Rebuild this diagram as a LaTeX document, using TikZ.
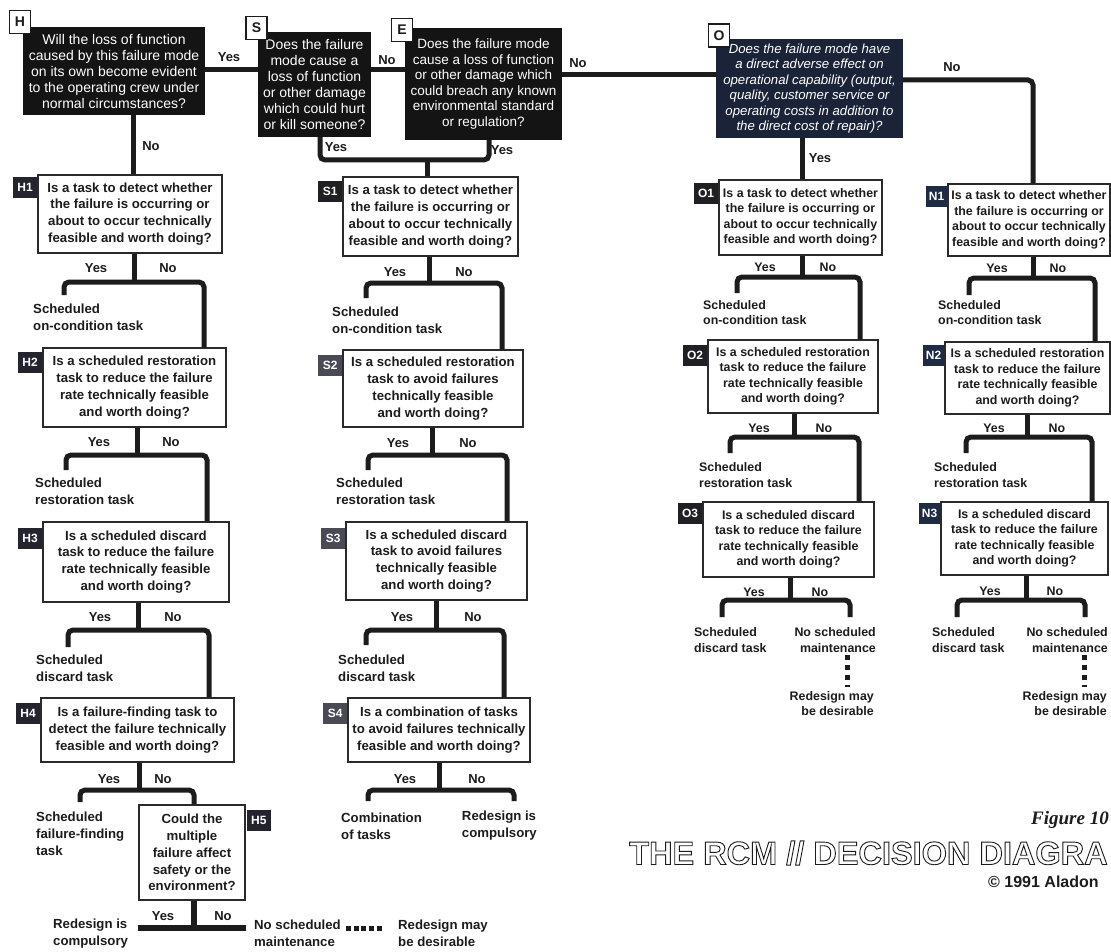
\documentclass[tikz,border=0pt]{standalone}
\usepackage{fontspec}
\setmainfont{Liberation Sans}
\newfontfamily\figserif{Liberation Serif}
\definecolor{ink}{HTML}{1C1C1C}
\definecolor{boxline}{HTML}{2A2A2A}
\definecolor{topfill}{HTML}{141414}
\definecolor{navy}{HTML}{1B2338}
\definecolor{labH}{HTML}{24242E}
\definecolor{labS}{HTML}{4A4A55}
\definecolor{labO}{HTML}{202024}
\definecolor{labN}{HTML}{1F2B45}
\begin{document}
\begin{tikzpicture}[x=1pt,y=-1pt,
  conn/.style={draw=ink, line width=5pt, rounded corners=5pt},
  topq/.style={fill=topfill, text=white, font=\fontsize{14}{16}\selectfont, align=center, inner sep=0pt},
  qbox/.style={draw=boxline, line width=1.3pt, fill=white, text=ink, font=\bfseries\fontsize{13.2}{16.8}\selectfont, align=center, inner sep=0pt},
  qboxr/.style={qbox, font=\bfseries\fontsize{12.4}{15.5}\selectfont},
  toplabel/.style={draw=ink, line width=1.4pt, fill=white, text=ink, font=\bfseries\fontsize{14}{14}\selectfont, minimum width=21pt, minimum height=23pt, inner sep=0pt},
  qlabel/.style={fill=#1, text=white, font=\bfseries\fontsize{12}{12}\selectfont, minimum width=24pt, minimum height=21pt, inner sep=0pt},
  yn/.style={text=ink, font=\bfseries\fontsize{13}{13}\selectfont, inner sep=0pt},
  ynr/.style={yn, font=\bfseries\fontsize{12.4}{12.4}\selectfont},
  outc/.style={text=ink, font=\bfseries\fontsize{13.2}{17}\selectfont, align=left, inner sep=0pt, anchor=west},
  outcr/.style={outc, font=\bfseries\fontsize{12.4}{15.5}\selectfont},
  sqh/.style={draw=ink, line width=5pt, dash pattern=on 5pt off 2.75pt},
  sqv/.style={draw=ink, line width=5pt, dash pattern=on 5pt off 5pt},
]
\fill[white] (0,0) rectangle (1111,952);
\useasboundingbox (0,0) rectangle (1111,952);

% ---------- top questions ----------
\node[topq, minimum width=182pt, minimum height=88pt] (qH) at (114,71)
  {Will the loss of function\\caused by this failure mode\\on its own become evident\\to the operating crew under\\normal circumstances?};
\node[topq, minimum width=113pt, minimum height=105pt] (qS) at (314.5,84.5)
  {Does the failure\\mode cause a\\loss of function\\or other damage\\which could hurt\\or kill someone?};
\node[topq, minimum width=157pt, minimum height=112pt, font=\fontsize{13.5}{15.5}\selectfont] (qE) at (483.5,84)
  {Does the failure mode\\cause a loss of function\\or other damage which\\could breach any known\\environmental standard\\or regulation?};
\node[topq, fill=navy, minimum width=187pt, minimum height=99pt, font=\itshape\fontsize{13.2}{15.5}\selectfont] (qO) at (809.5,88.5)
  {Does the failure mode have\\a direct adverse effect on\\operational capability (output,\\quality, customer service or\\operating costs in addition to\\the direct cost of repair)?};
\node[toplabel] (lH) at (20,22) {H};
\node[toplabel] (lS) at (256.5,28) {S};
\node[toplabel] (lE) at (402,30) {E};
\node[toplabel] (lO) at (719,35.5) {O};

% ---------- H column ----------
\node[qbox, minimum width=184pt, minimum height=78pt] (qH1) at (130,214)
  {Is a task to detect whether\\the failure is occurring or\\about to occur technically\\feasible and worth doing?};
\node[qbox, minimum width=183pt, minimum height=79pt] (qH2) at (134.5,387.5)
  {Is a scheduled restoration\\task to reduce the failure\\rate technically feasible\\and worth doing?};
\node[qbox, minimum width=186pt, minimum height=80pt] (qH3) at (136,562)
  {Is a scheduled discard\\task to reduce the failure\\rate technically feasible\\and worth doing?};
\node[qbox, minimum width=193pt, minimum height=64pt] (qH4) at (137.5,730)
  {Is a failure-finding task to\\detect the failure technically\\feasible and worth doing?};
\node[qbox, minimum width=106pt, minimum height=95pt] (qH5) at (192,852.5)
  {Could the\\multiple\\failure affect\\safety or the\\environment?};
\node[qlabel=labH, anchor=north east] (lH1) at ([yshift=-2pt]qH1.north west) {H1};
\node[qlabel=labH, anchor=north east] (lH2) at ([yshift=-4pt]qH2.north west) {H2};
\node[qlabel=labH, anchor=north east] (lH3) at ([yshift=-6pt]qH3.north west) {H3};
\node[qlabel=labH, anchor=north east] (lH4) at ([yshift=-5pt]qH4.north west) {H4};
\node[qlabel=labH, anchor=north west] (lH5) at ([yshift=-5pt,xshift=1pt]qH5.north east) {H5};

% ---------- S column ----------
\node[qbox, minimum width=175pt, minimum height=79pt] (qS1) at (430.5,216.5)
  {Is a task to detect whether\\the failure is occurring or\\about to occur technically\\feasible and worth doing?};
\node[qbox, minimum width=180pt, minimum height=77pt] (qS2) at (433,388.5)
  {Is a scheduled restoration\\task to avoid failures\\technically feasible\\and worth doing?};
\node[qbox, minimum width=181pt, minimum height=78pt] (qS3) at (436.5,561)
  {Is a scheduled discard\\task to avoid failures\\technically feasible\\and worth doing?};
\node[qbox, minimum width=182pt, minimum height=64pt] (qS4) at (439,730)
  {Is a combination of tasks\\to avoid failures technically\\feasible and worth doing?};
\node[qlabel=labO, anchor=north east] (lS1) at ([yshift=-4pt]qS1.north west) {S1};
\node[qlabel=labS, anchor=north east] (lS2) at ([yshift=-5pt]qS2.north west) {S2};
\node[qlabel=labS, anchor=north east] (lS3) at ([yshift=-6pt]qS3.north west) {S3};
\node[qlabel=labS, anchor=north east] (lS4) at ([yshift=-5pt]qS4.north west) {S4};

% ---------- O column ----------
\node[qboxr, minimum width=163pt, minimum height=75pt] (qO1) at (800.5,217.5)
  {Is a task to detect whether\\the failure is occurring or\\about to occur technically\\feasible and worth doing?};
\node[qboxr, minimum width=170pt, minimum height=73pt] (qO2) at (793,376.5)
  {Is a scheduled restoration\\task to reduce the failure\\rate technically feasible\\and worth doing?};
\node[qboxr, minimum width=171pt, minimum height=75pt] (qO3) at (788.5,539.5)
  {Is a scheduled discard\\task to reduce the failure\\rate technically feasible\\and worth doing?};
\node[qlabel=labO, anchor=north east] (lO1) at ([yshift=-3pt]qO1.north west) {O1};
\node[qlabel=labO, anchor=north east] (lO2) at ([yshift=-5pt]qO2.north west) {O2};
\node[qlabel=labO, anchor=north east] (lO3) at ([yshift=-1pt]qO3.north west) {O3};

% ---------- N column ----------
\node[qboxr, minimum width=162pt, minimum height=72pt] (qN1) at (1029,220)
  {Is a task to detect whether\\the failure is occurring or\\about to occur technically\\feasible and worth doing?};
\node[qboxr, minimum width=165pt, minimum height=72pt] (qN2) at (1027.5,378)
  {Is a scheduled restoration\\task to reduce the failure\\rate technically feasible\\and worth doing?};
\node[qboxr, minimum width=167pt, minimum height=73pt] (qN3) at (1024.5,538.5)
  {Is a scheduled discard\\task to reduce the failure\\rate technically feasible\\and worth doing?};
\node[qlabel=labN, minimum width=21pt, anchor=north east] (lN1) at ([yshift=-2pt]qN1.north west) {N1};
\node[qlabel=labN, minimum width=21pt, anchor=north east] (lN2) at ([yshift=-3pt]qN2.north west) {N2};
\node[qlabel=labN, minimum width=21pt, anchor=north east] (lN3) at ([yshift=-1pt]qN3.north west) {N3};

% ---------- outcomes ----------
\node[outc] (h1y) at (33,317.5) {Scheduled\\on-condition task};
\node[outc] (h2y) at (35,491) {Scheduled\\restoration task};
\node[outc] (h3y) at (36,668.5) {Scheduled\\discard task};
\node[outc] (h4y) at (36,834) {Scheduled\\failure-finding\\task};
\node[outc] (h5y) at (53,933.5) {Redesign is\\compulsory};
\node[outc] (h5n) at (254,933.5) {No scheduled\\maintenance};
\node[outc] (h5d) at (398,933.5) {Redesign may\\be desirable};
\node[outc] (s1y) at (332,320) {Scheduled\\on-condition task};
\node[outc] (s2y) at (336,491.5) {Scheduled\\restoration task};
\node[outc] (s3y) at (338,668.5) {Scheduled\\discard task};
\node[outc] (s4y) at (341,826) {Combination\\of tasks};
\node[outc, anchor=east] (s4n) at (537,826) {Redesign is\\compulsory};
\node[outcr] (o1y) at (703,312.5) {Scheduled\\on-condition task};
\node[outcr] (o2y) at (699,475) {Scheduled\\restoration task};
\node[outcr] (o3y) at (694,640) {Scheduled\\discard task};
\node[outcr, anchor=east, align=right] (o3n) at (876,640) {No scheduled\\maintenance};
\node[outcr, anchor=east, align=right] (o3d) at (874,703.5) {Redesign may\\be desirable};
\node[outcr] (n1y) at (938,312.5) {Scheduled\\on-condition task};
\node[outcr] (n2y) at (934,475) {Scheduled\\restoration task};
\node[outcr] (n3y) at (932,640) {Scheduled\\discard task};
\node[outcr, anchor=east, align=right] (n3n) at (1108,640) {No scheduled\\maintenance};
\node[outcr, anchor=east, align=right] (n3d) at (1107,703.5) {Redesign may\\be desirable};

% ---------- yes / no labels ----------
\node[yn] (tHy) at (229,57) {Yes};
\node[yn] (tSn) at (387,60) {No};
\node[yn] (tEn) at (578,63) {No};
\node[yn] (tOn) at (952,67) {No};
\node[yn] (tHn) at (151,146) {No};
\node[yn] (tSy) at (336,147) {Yes};
\node[yn] (tEy) at (502,150) {Yes};
\node[yn] (tOy) at (820,158) {Yes};
\node[yn] (h1ya) at (96,268) {Yes};   \node[yn] (h1na) at (168,268) {No};
\node[yn] (h2ya) at (99,442) {Yes};   \node[yn] (h2na) at (171,442) {No};
\node[yn] (h3ya) at (100,617) {Yes};  \node[yn] (h3na) at (173,617) {No};
\node[yn] (h4ya) at (109,779) {Yes};  \node[yn] (h4na) at (163,779) {No};
\node[yn] (h5ya) at (163,916) {Yes};  \node[yn] (h5na) at (223,916) {No};
\node[yn] (s1ya) at (395,272) {Yes};  \node[yn] (s1na) at (464,272) {No};
\node[yn] (s2ya) at (398,443) {Yes};  \node[yn] (s2na) at (468,443) {No};
\node[yn] (s3ya) at (402,617) {Yes};  \node[yn] (s3na) at (473,617) {No};
\node[yn] (s4ya) at (405,779) {Yes};  \node[yn] (s4na) at (477,779) {No};
\node[ynr] (o1ya) at (765,267) {Yes}; \node[ynr] (o1na) at (828,267) {No};
\node[ynr] (o2ya) at (759,428) {Yes}; \node[ynr] (o2na) at (824,428) {No};
\node[ynr] (o3ya) at (754,592) {Yes}; \node[ynr] (o3na) at (820,592) {No};
\node[ynr] (n1ya) at (997,268) {Yes}; \node[ynr] (n1na) at (1058,268) {No};
\node[ynr] (n2ya) at (994,428) {Yes}; \node[ynr] (n2na) at (1057,428) {No};
\node[ynr] (n3ya) at (990,591) {Yes}; \node[ynr] (n3na) at (1055,591) {No};

% ---------- title block ----------
\node[anchor=west, inner sep=0pt, font=\figserif\bfseries\itshape\fontsize{19}{19}\selectfont, text=ink] (fig) at (1031,820) {Figure 10};
\node[anchor=west, inner sep=0pt, font=\bfseries\fontsize{32.5}{32.5}\selectfont, text=ink] (title) at (629,853)
  {\special{pdf:literal direct 1 Tr 0.9 w}THE RCM // DECISION DIAGRA\special{pdf:literal direct 0 Tr}};
\node[anchor=west, inner sep=0pt, font=\bfseries\fontsize{16}{16}\selectfont, text=ink] (copy) at (988,882) {© 1991 Aladon};

% ---------- connectors: top ----------
\coordinate (yHS) at (0,70);
\coordinate (yEO) at (0,75);
\coordinate (nx) at (1033,80);
\draw[conn] (qH.east |- yHS) -- (qS.west |- yHS);
\draw[conn] (qS.east |- yHS) -- (qE.west |- yHS);
\draw[conn] (qE.east |- yEO) -- (qO.west |- yEO);
\draw[conn] (qO.east |- nx) -- (nx) -- (qN1.north -| nx);
\coordinate (hx) at (133,0);
\draw[conn] (qH.south -| hx) -- (qH1.north -| hx);
\coordinate (sy) at (320,160); \coordinate (ey) at (489,160); \coordinate (s1x) at (427,160);
\draw[conn] (qS.south -| sy) -- (sy) -- (ey) -- (qE.south -| ey);
\draw[conn] (s1x) -- (qS1.north -| s1x);
\coordinate (ox) at (802,0);
\draw[conn] (qO.south -| ox) -- (qO1.north -| ox);

% ---------- connectors: H column ----------
\coordinate (h1s) at (134,282); \coordinate (h1l) at (64,295); \coordinate (h1r) at (204,0);
\draw[conn] (qH1.south -| h1s) -- (h1s);
\draw[conn] (h1l) |- (h1s) -| (qH2.north -| h1r);
\coordinate (h2s) at (137,455); \coordinate (h2l) at (66,470); \coordinate (h2r) at (207,0);
\draw[conn] (qH2.south -| h2s) -- (h2s);
\draw[conn] (h2l) |- (h2s) -| (qH3.north -| h2r);
\coordinate (h3s) at (138,630); \coordinate (h3l) at (68,647); \coordinate (h3r) at (209,0);
\draw[conn] (qH3.south -| h3s) -- (h3s);
\draw[conn] (h3l) |- (h3s) -| (qH4.north -| h3r);
\coordinate (h4s) at (139,790); \coordinate (h4l) at (80,802); \coordinate (h4r) at (194,0);
\draw[conn] (qH4.south -| h4s) -- (h4s);
\draw[conn] (h4l) |- (h4s) -| (qH5.north -| h4r);
\coordinate (h5s) at (194,928); \coordinate (h5l) at (138,928); \coordinate (h5r) at (246,928);
\draw[conn, line width=6pt] (qH5.south -| h5s) -- (h5s);
\draw[conn, line width=6pt] (h5l) -- (h5r);
\draw[sqh] ([xshift=5pt,yshift=5pt]h5n.east) -- ([xshift=-16pt,yshift=5pt]h5d.west);

% ---------- connectors: S column ----------
\coordinate (s1s) at (429,283); \coordinate (s1l) at (366,298); \coordinate (s1r) at (502,0);
\draw[conn] (qS1.south -| s1s) -- (s1s);
\draw[conn] (s1l) |- (s1s) -| (qS2.north -| s1r);
\coordinate (s2s) at (432,455); \coordinate (s2l) at (368,470); \coordinate (s2r) at (507,0);
\draw[conn] (qS2.south -| s2s) -- (s2s);
\draw[conn] (s2l) |- (s2s) -| (qS3.north -| s2r);
\coordinate (s3s) at (436,630); \coordinate (s3l) at (366,645); \coordinate (s3r) at (504,0);
\draw[conn] (qS3.south -| s3s) -- (s3s);
\draw[conn] (s3l) |- (s3s) -| (qS4.north -| s3r);
\coordinate (s4s) at (439,790); \coordinate (s4l) at (368,801); \coordinate (s4r) at (514,801);
\draw[conn] (qS4.south -| s4s) -- (s4s);
\draw[conn] (s4l) |- (s4s) -| (s4r);

% ---------- connectors: O column ----------
\coordinate (o1s) at (802,277); \coordinate (o1l) at (737,293); \coordinate (o1r) at (860,0);
\draw[conn] (qO1.south -| o1s) -- (o1s);
\draw[conn] (o1l) |- (o1s) -| (qO2.north -| o1r);
\coordinate (o2s) at (794,437); \coordinate (o2l) at (730,453); \coordinate (o2r) at (859,0);
\draw[conn] (qO2.south -| o2s) -- (o2s);
\draw[conn] (o2l) |- (o2s) -| (qO3.north -| o2r);
\coordinate (o3s) at (790,600); \coordinate (o3l) at (722,617); \coordinate (o3r) at (850,617);
\draw[conn] (qO3.south -| o3s) -- (o3s);
\draw[conn] (o3l) |- (o3s) -| (o3r);
\coordinate (o3q) at (847,0);
\draw[sqv] ([yshift=-2pt]o3n.south -| o3q) -- ([yshift=4pt]o3d.north -| o3q);

% ---------- connectors: N column ----------
\coordinate (n1s) at (1033,278); \coordinate (n1l) at (969,295); \coordinate (n1r) at (1095,0);
\draw[conn] (qN1.south -| n1s) -- (n1s);
\draw[conn] (n1l) |- (n1s) -| (qN2.north -| n1r);
\coordinate (n2s) at (1027,437); \coordinate (n2l) at (966,453); \coordinate (n2r) at (1092,0);
\draw[conn] (qN2.south -| n2s) -- (n2s);
\draw[conn] (n2l) |- (n2s) -| (qN3.north -| n2r);
\coordinate (n3s) at (1026,600); \coordinate (n3l) at (957,617); \coordinate (n3r) at (1085,617);
\draw[conn] (qN3.south -| n3s) -- (n3s);
\draw[conn] (n3l) |- (n3s) -| (n3r);
\coordinate (n3q) at (1084,0);
\draw[sqv] ([yshift=-2pt]n3n.south -| n3q) -- ([yshift=4pt]n3d.north -| n3q);
\end{tikzpicture}
\end{document}
